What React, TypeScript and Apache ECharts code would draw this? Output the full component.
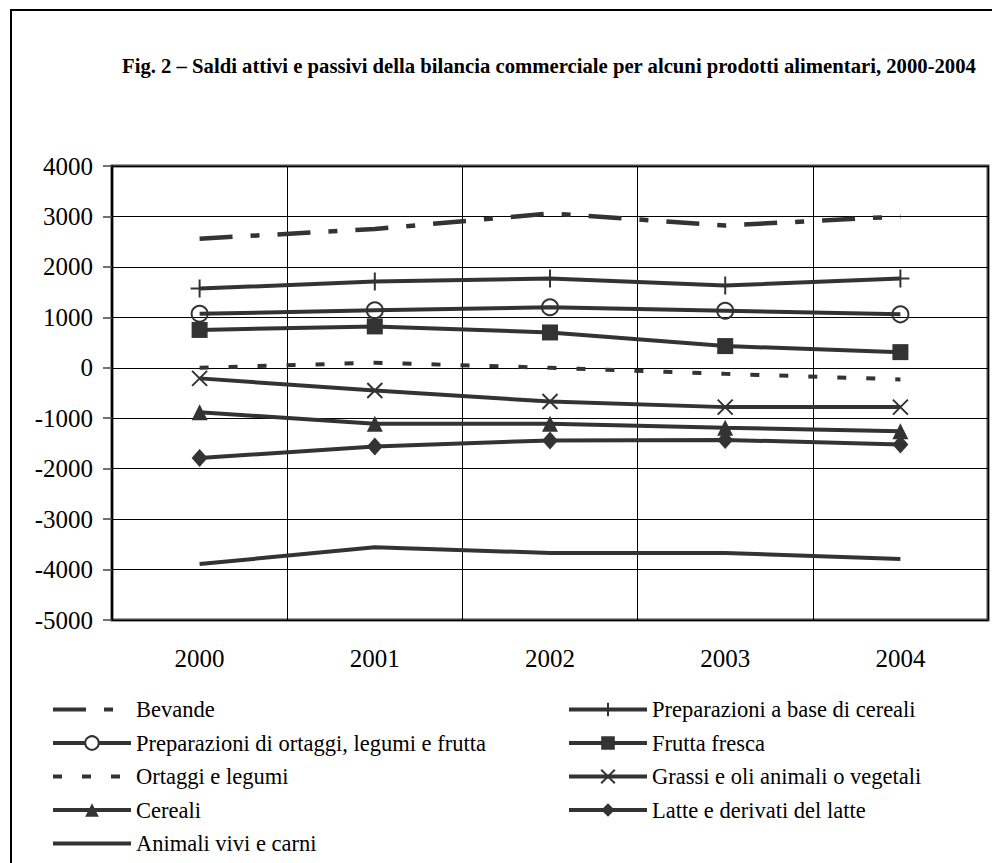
import React, { useEffect, useRef } from 'react';
import * as echarts from 'echarts';

const years = ['2000', '2001', '2002', '2003', '2004'];
const bevande = [2560, 2750, 3060, 2820, 3000];
const prepCereali = [1570, 1710, 1770, 1630, 1770];
const prepOrtaggi = [1070, 1140, 1200, 1130, 1060];
const fruttaFresca = [750, 820, 700, 430, 310];
const ortaggiLegumi = [0, 100, 0, -120, -230];
const grassiOli = [-210, -450, -670, -780, -780];
const cereali = [-880, -1110, -1110, -1190, -1260];
const latte = [-1790, -1560, -1440, -1430, -1520];
const animali = [-3890, -3560, -3670, -3670, -3790];
const yMin = -5000;
const yMax = 4000;
const yStep = 1000;

const titleText =
  'Fig. 2 – Saldi attivi e passivi della bilancia commerciale per alcuni prodotti alimentari, 2000-2004';

const FONT = "'Liberation Serif', 'Times New Roman', Times, serif";
const INK = '#333333';

const hidden = { opacity: 0 };
const leftLegend = [
  { name: 'Bevande', itemStyle: hidden },
  { name: 'Preparazioni di ortaggi, legumi e frutta', itemStyle: { color: '#fff' } },
  { name: 'Ortaggi e legumi', itemStyle: hidden },
  { name: 'Cereali' },
  { name: 'Animali vivi e carni', itemStyle: hidden },
];
const rightLegend = [
  { name: 'Preparazioni a base di cereali' },
  { name: 'Frutta fresca' },
  { name: 'Grassi e oli animali o vegetali' },
  { name: 'Latte e derivati del latte' },
];

export default function App() {
  const ref = useRef<HTMLDivElement>(null);

  useEffect(() => {
    if (!ref.current) return;
    const chart = echarts.init(ref.current, undefined, { renderer: 'svg' });

    const base = (name: string, data: number[], extra: any) => ({
      name,
      type: 'line',
      data,
      showSymbol: true,
      lineStyle: { color: INK, width: 4, cap: 'butt' },
      itemStyle: { color: INK },
      emphasis: { disabled: true },
      z: 3,
      ...extra,
    });

    const plusPath = 'path://M0,5L10,5M5,0L5,10';
    const xPath = 'path://M0,0L10,10M10,0L0,10';

    const series = [
      base('Bevande', bevande, {
        symbol: 'none',
        lineStyle: { color: INK, width: 4.5, type: [33, 18, 9, 18], cap: 'butt' },
      }),
      base('Preparazioni a base di cereali', prepCereali, {
        symbol: plusPath,
        symbolSize: 18,
        itemStyle: { color: 'none', borderColor: INK, borderWidth: 2 },
      }),
      base('Preparazioni di ortaggi, legumi e frutta', prepOrtaggi, {
        symbol: 'circle',
        symbolSize: 16,
        itemStyle: { color: 'rgba(255,255,255,0)', borderColor: INK, borderWidth: 2 },
      }),
      base('Frutta fresca', fruttaFresca, {
        symbol: 'rect',
        symbolSize: 16,
      }),
      base('Ortaggi e legumi', ortaggiLegumi, {
        symbol: 'none',
        lineStyle: { color: INK, width: 4, type: [9, 20], cap: 'butt' },
      }),
      base('Grassi e oli animali o vegetali', grassiOli, {
        symbol: xPath,
        symbolSize: 15,
        itemStyle: { color: 'none', borderColor: INK, borderWidth: 2 },
      }),
      base('Cereali', cereali, {
        symbol: 'triangle',
        symbolSize: 16,
      }),
      base('Latte e derivati del latte', latte, {
        symbol: 'diamond',
        symbolSize: [16, 18],
      }),
      base('Animali vivi e carni', animali, {
        symbol: 'none',
      }),
    ];

    const legendCommon = {
      orient: 'vertical',
      top: 698,
      height: 200,
      padding: 0,
      itemWidth: 78,
      itemHeight: 17,
      itemGap: 10.5,
      itemTextGap: 1,
      selectedMode: false,
      lineStyle: { width: 4 },
      textStyle: { fontFamily: FONT, fontSize: 22.5, color: '#000', lineHeight: 22 },
    };

    chart.setOption({
      animation: false,
      backgroundColor: '#fff',
      textStyle: { fontFamily: FONT },
      title: {
        text: titleText,
        left: 122,
        top: 55,
        padding: 0,
        textStyle: { fontFamily: FONT, fontSize: 20.7, fontWeight: 'bold', color: '#000' },
      },
      graphic: [
        {
          type: 'rect',
          shape: { x: 11, y: 10, width: 1000, height: 900 },
          style: { fill: 'none', stroke: '#000', lineWidth: 2 },
          silent: true,
          z: 100,
        },
      ],
      legend: [
        { ...legendCommon, left: 51, data: leftLegend },
        { ...legendCommon, left: 567, data: rightLegend },
      ],
      grid: {
        left: 112,
        top: 166,
        width: 876,
        height: 454,
        show: true,
        borderColor: '#444',
        borderWidth: 3,
        backgroundColor: 'transparent',
      },
      xAxis: {
        type: 'category',
        data: years,
        boundaryGap: true,
        axisLine: { show: false },
        axisTick: { show: false },
        splitLine: { show: true, interval: 0, lineStyle: { color: '#000', width: 1 } },
        axisLabel: { fontFamily: FONT, fontSize: 25, color: '#000', margin: 26 },
      },
      yAxis: {
        type: 'value',
        min: yMin,
        max: yMax,
        interval: yStep,
        axisLine: { show: true, lineStyle: { color: '#000', width: 2 } },
        axisTick: { show: true, length: 9, lineStyle: { color: '#444', width: 1.5 } },
        splitLine: { show: true, lineStyle: { color: '#000', width: 1 } },
        axisLabel: {
          fontFamily: FONT,
          fontSize: 25,
          color: '#000',
          margin: 19,
          formatter: (v: number) => String(v),
        },
      },
      series,
    });

    return () => chart.dispose();
  }, []);

  return (
    <div
      ref={ref}
      style={{ position: 'fixed', left: 0, top: 0, width: 992, height: 863, background: '#fff' }}
    />
  );
}
